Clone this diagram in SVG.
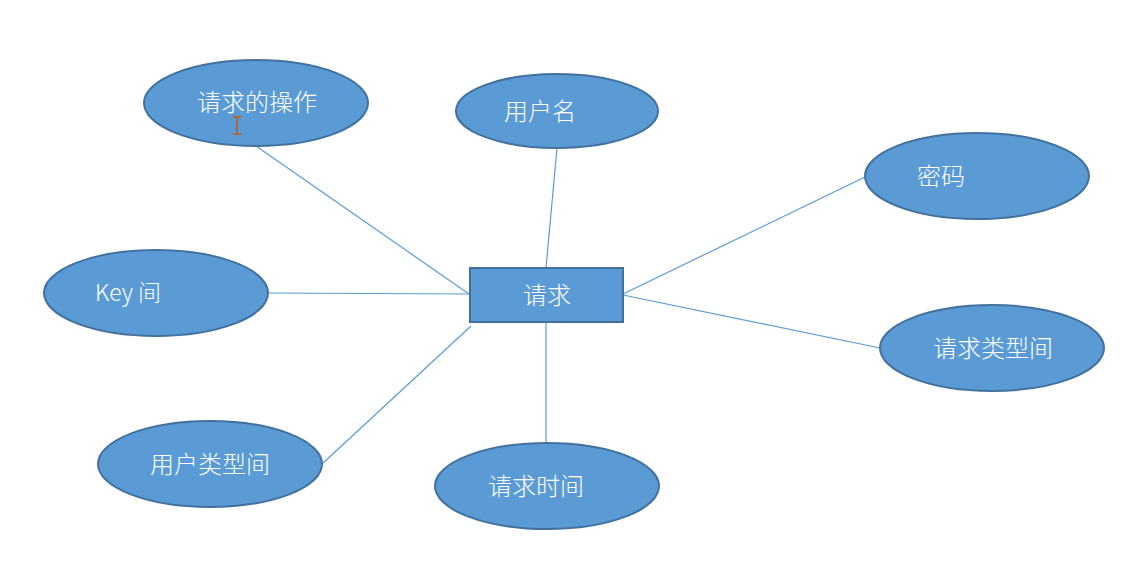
<svg xmlns="http://www.w3.org/2000/svg" width="1132" height="569" viewBox="0 0 1132 569">
<style>
.n{fill:#5b9bd5;stroke:#41719c;stroke-width:2}
.t{fill:#fff;font-family:"Microsoft YaHei","Noto Sans CJK SC",sans-serif;font-size:24px;font-weight:300;text-anchor:middle;dominant-baseline:central}
.c line{stroke:#5b9bd5;stroke-width:1.2}
</style>
<rect width="1132" height="569" fill="#fff"/>
<g class="c" id="connectors">
<line x1="256" y1="146" x2="469" y2="294"/>
<line x1="557" y1="148" x2="546" y2="268"/>
<line x1="865" y1="177" x2="623" y2="294"/>
<line x1="268" y1="293" x2="469" y2="294"/>
<line x1="880" y1="348" x2="623" y2="295"/>
<line x1="322" y1="464" x2="471" y2="326"/>
<line x1="546" y1="322" x2="546" y2="443"/>
</g>
<g id="op"><ellipse class="n" cx="256" cy="103" rx="112" ry="43"/><text class="t" x="257" y="100">请求的操作</text></g>
<g id="user"><ellipse class="n" cx="557" cy="111" rx="101" ry="37"/><text class="t" x="540" y="109">用户名</text></g>
<g id="pwd"><ellipse class="n" cx="977" cy="176" rx="112" ry="43"/><text class="t" x="941" y="174">密码</text></g>
<g id="key"><ellipse class="n" cx="156" cy="293" rx="112" ry="43"/><text class="t" x="128" y="291" style="font-size:23px">Key 间</text></g>
<g id="reqtype"><ellipse class="n" cx="992" cy="348" rx="112" ry="43"/><text class="t" x="993" y="346">请求类型间</text></g>
<g id="usertype"><ellipse class="n" cx="210" cy="464" rx="112" ry="43"/><text class="t" x="210" y="462">用户类型间</text></g>
<g id="reqtime"><ellipse class="n" cx="547" cy="486" rx="112" ry="43"/><text class="t" x="536" y="484">请求时间</text></g>
<g id="req"><rect class="n" x="470" y="268" width="153" height="54"/><text class="t" x="547" y="293">请求</text></g>
<path d="M233 117h8M237 117v17M233 134h8" stroke="#c55a11" stroke-width="1.5" fill="none"/>
</svg>
